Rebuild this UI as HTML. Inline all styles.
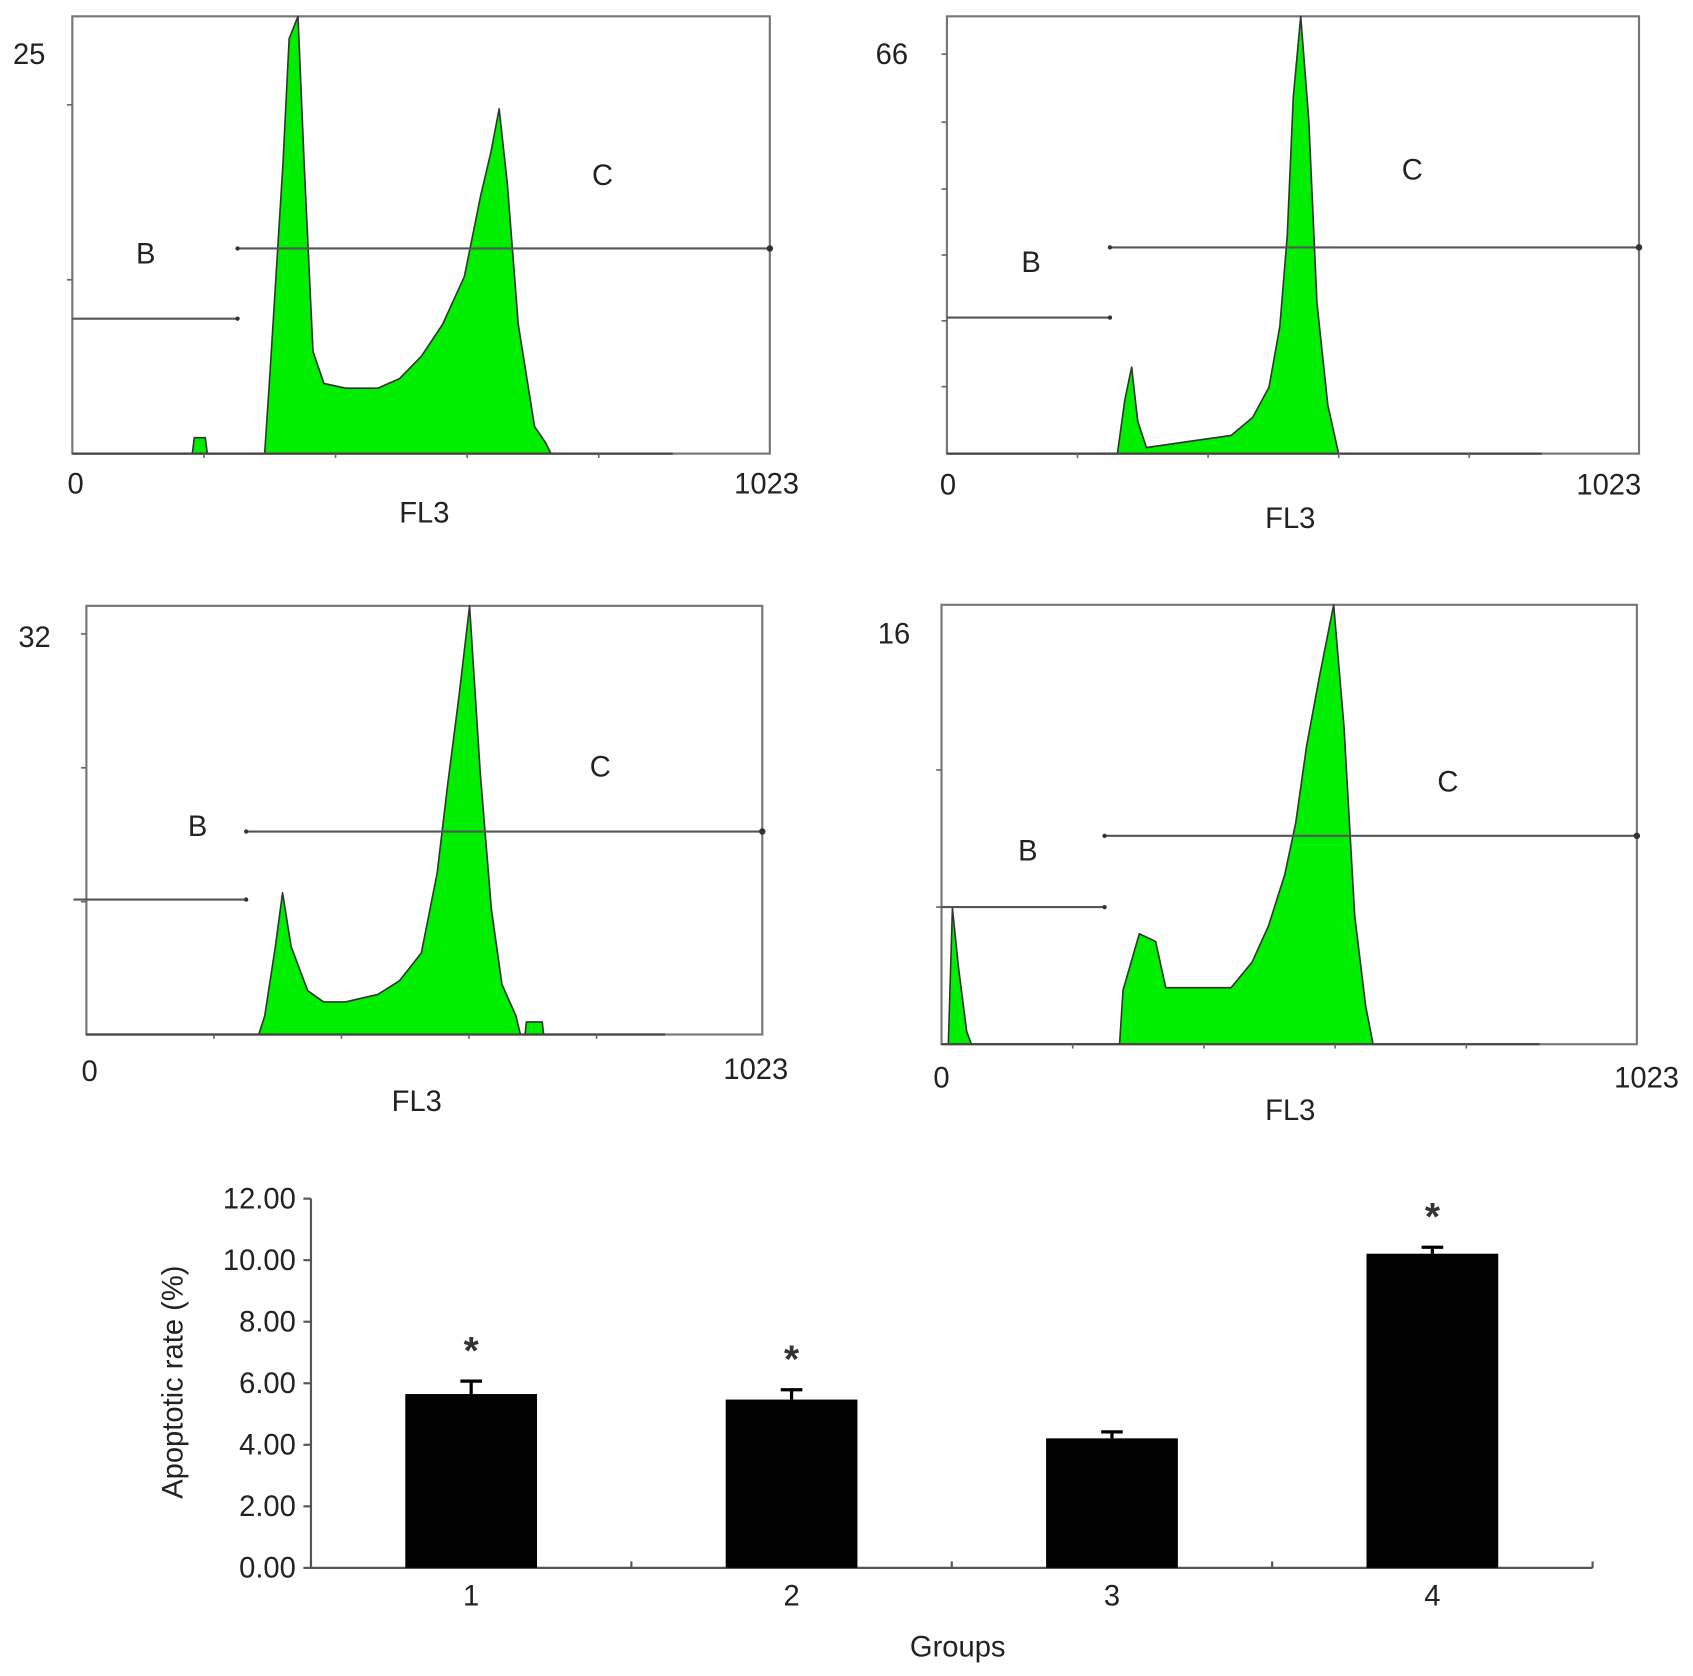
<!DOCTYPE html>
<html><head><meta charset="utf-8"><style>
html,body{margin:0;padding:0;background:#fff;}
svg{display:block;font-family:"Liberation Sans",sans-serif;}
</style></head><body>
<svg id="fig" width="1693" height="1676" viewBox="0 0 1568 1552" xmlns="http://www.w3.org/2000/svg"></svg>
<script>
// ---- Histogram data (channel 0..1023, counts) ----
const h1Ch = [176,179,195,198,282,290,309,318,331,340,353,369,401,448,480,512,543,575,599,614,626,638,654,678,694,702];
const h1Ct = [0,1,1,0,0,5.1,18.2,26,27.4,18.2,6.4,4.4,4.1,4.1,4.7,6.1,8.1,11.1,16.2,18.9,21.6,16.9,8.1,1.7,0.7,0];
const h2Ch = [252,263,273,282,295,356,420,452,476,492,503,512,523,535,547,563,579];
const h2Ct = [0,8.9,14.3,5.4,1,2,3,6,11,21,36,59,72.3,55,25,8,0];
const h3Ch = [261,270,286,297,310,335,359,392,441,474,507,531,547,564,580,596,613,629,650,657,664,666,690,692];
const h3Ct = [0,1.5,7,11.3,7,3.5,2.6,2.6,3.2,4.3,6.5,12.9,20,27,34.2,21,10,4,1.5,0,0,1,1,0];
const h4Ch = [10,16,25,37,44,262,267,291,315,330,378,426,457,481,505,521,537,556,577,592,608,624,635];
const h4Ct = [0,5.3,3,0.5,0,0,2.1,4.3,4,2.2,2.2,2.2,3.2,4.6,6.6,8.6,11.6,14.3,17.1,12.4,5,1.5,0];
const histMax = [27.4,72.3,34.2,17.1];
const histLabels = ["25","66","32","16"];
// ---- Bar chart data ----
const groups = ["1","2","3","4"];
const rates = [5.65,5.47,4.21,10.21];
const errs = [0.42,0.32,0.21,0.21];
const sig = [true,true,false,true];
const yTicks = [0,2,4,6,8,10,12];

const NS="http://www.w3.org/2000/svg";
const svg=document.getElementById('fig');
function mk(tag,attrs,parent,text){const e=document.createElementNS(NS,tag);for(const k in attrs)e.setAttribute(k,attrs[k]);if(text!==undefined)e.textContent=text;(parent||svg).appendChild(e);return e;}
const FS=27;
const panels=[
 {ch:h1Ch,ct:h1Ct,x0:67,x1:713,y0:15,y1:420,lab:[27,50],lx:[70,448],rx:[710,448],fl:[393,475],B:[135,235],C:[558,162],bl:295,cl:230,gx:220,ticks:[97,259],axL:67},
 {ch:h2Ch,ct:h2Ct,x0:877,x1:1518,y0:15,y1:420,lab:[826,50],lx:[878,449],rx:[1490,449],fl:[1195,480],B:[955,243],C:[1308,157],bl:294,cl:229,gx:1028,ticks:[50,113,175,236,297,358],axL:877},
 {ch:h3Ch,ct:h3Ct,x0:80,x1:706,y0:561,y1:958,lab:[32,590],lx:[83,992],rx:[700,990],fl:[386,1020],B:[183,765],C:[556,710],bl:833,cl:770,gx:228,ticks:[587,711,835],axL:68},
 {ch:h4Ch,ct:h4Ct,x0:872,x1:1516,y0:560,y1:967,lab:[828,587],lx:[872,998],rx:[1525,998],fl:[1195,1028],B:[952,788],C:[1341,724],bl:840,cl:774,gx:1023,ticks:[713,840],axL:872}
];
panels.forEach((p,i)=>{
 const g=mk('g',{});
 
 
 const xs=c=>p.x0+c/1023*(p.x1-p.x0);
 const ys=v=>p.y1-v/histMax[i]*(p.y1-p.y0);
 const box=mk('rect',{x:p.x0,y:p.y0,width:p.x1-p.x0,height:p.y1-p.y0,fill:'none',stroke:'#777','stroke-width':2},g);
 
 
 let pts=p.ch.map((c,j)=>xs(c).toFixed(1)+','+ys(p.ct[j]).toFixed(1));
 pts=[xs(p.ch[0]).toFixed(1)+','+p.y1].concat(pts).concat([xs(p.ch[p.ch.length-1]).toFixed(1)+','+p.y1]);
 const poly=mk('polygon',{points:pts.join(' '),fill:'#00ee00',stroke:'#333','stroke-width':1.5,'stroke-linejoin':'round'},g);
 
 
 mk('line',{x1:p.x0,y1:p.y1,x2:p.x1-90,y2:p.y1,stroke:'#444','stroke-width':2},g);
 p.ticks.forEach(t=>mk('line',{x1:p.x0-5,y1:t,x2:p.x0,y2:t,stroke:'#666','stroke-width':1.5},g));
 for(let k=1;k<5;k++){const tx=p.x0+k*(p.x1-p.x0)/5.3;mk('line',{x1:tx,y1:p.y1,x2:tx,y2:p.y1+4,stroke:'#666','stroke-width':1.5},g);}
 const t1=mk('text',{x:p.lab[0],y:p.lab[1]+9,'font-size':FS,'text-anchor':'middle',fill:'#222'},g,histLabels[i]);
 
 const t2=mk('text',{x:p.lx[0],y:p.lx[1]+9,'font-size':FS,'text-anchor':'middle',fill:'#222'},g,'0');
 
 const t3=mk('text',{x:p.rx[0],y:p.rx[1]+9,'font-size':FS,'text-anchor':'middle',fill:'#222'},g,'1023');
 
 const t4=mk('text',{x:p.fl[0],y:p.fl[1]+9,'font-size':FS,'text-anchor':'middle',fill:'#222'},g,'FL3');
 
 const tb=mk('text',{x:p.B[0],y:p.B[1]+9,'font-size':FS,'text-anchor':'middle',fill:'#222'},g,'B');
 
 const tc=mk('text',{x:p.C[0],y:p.C[1]+9,'font-size':FS,'text-anchor':'middle',fill:'#222'},g,'C');
 
 const lb=mk('line',{x1:p.axL,y1:p.bl,x2:p.gx,y2:p.bl,stroke:'#555','stroke-width':2},g);
 
 mk('circle',{cx:p.gx,cy:p.bl,r:2,fill:'#333'},g);
 const lc=mk('line',{x1:p.gx,y1:p.cl,x2:p.x1,y2:p.cl,stroke:'#555','stroke-width':2},g);
 
 mk('circle',{cx:p.gx,cy:p.cl,r:2,fill:'#333'},g);
 mk('circle',{cx:p.x1,cy:p.cl,r:3,fill:'#333'},g);
});

// ---- Bar chart ----
const bc=mk('g',{});


const AX=288, AXR=1475, Y0=1452, Y12=1110;
const yS=v=>Y0-v/12*(Y0-Y12);
const xC=i=>AX+(i+0.5)*(AXR-AX)/groups.length;
mk('line',{x1:AX,y1:Y12,x2:AX,y2:Y0,stroke:'#555','stroke-width':2},bc);
mk('line',{x1:AX,y1:Y0,x2:AXR,y2:Y0,stroke:'#555','stroke-width':2},bc);
yTicks.forEach(v=>{
 mk('line',{x1:AX-7,y1:yS(v),x2:AX,y2:yS(v),stroke:'#555','stroke-width':2},bc);
 const t=mk('text',{x:AX-14,y:yS(v)+9,'font-size':FS,'text-anchor':'end',fill:'#222'},bc,v.toFixed(2));
 
 
});
for(let k=0;k<=groups.length;k++){const tx=AX+k*(AXR-AX)/groups.length;mk('line',{x1:tx,y1:Y0-6,x2:tx,y2:Y0,stroke:'#555','stroke-width':2},bc);}
groups.forEach((g,i)=>{
 const cx=xC(i);
 const b=mk('rect',{x:cx-61,y:yS(rates[i]),width:122,height:Y0-yS(rates[i]),fill:'#000'},bc);
 
 
 const e=mk('line',{x1:cx,y1:yS(rates[i]+errs[i]),x2:cx,y2:yS(rates[i]),stroke:'#000','stroke-width':3},bc);
 
 
 mk('line',{x1:cx-10,y1:yS(rates[i]+errs[i]),x2:cx+10,y2:yS(rates[i]+errs[i]),stroke:'#000','stroke-width':3},bc);
 const t=mk('text',{x:cx,y:1487,'font-size':FS,'text-anchor':'middle',fill:'#222'},bc,g);
 
 
 if(sig[i]){
  const s=mk('text',{x:cx,y:yS(rates[i]+errs[i])-16,'font-size':36,'font-weight':'bold','text-anchor':'middle',fill:'#333'},bc,'*');
  
  
 }
});
const yt=mk('text',{x:0,y:0,'font-size':FS,'text-anchor':'middle',fill:'#222',transform:'translate(169,1280) rotate(-90)'},bc,'Apoptotic rate (%)');


const xt=mk('text',{x:887,y:1534,'font-size':FS,'text-anchor':'middle',fill:'#222'},bc,'Groups');


</script>
</body></html>
